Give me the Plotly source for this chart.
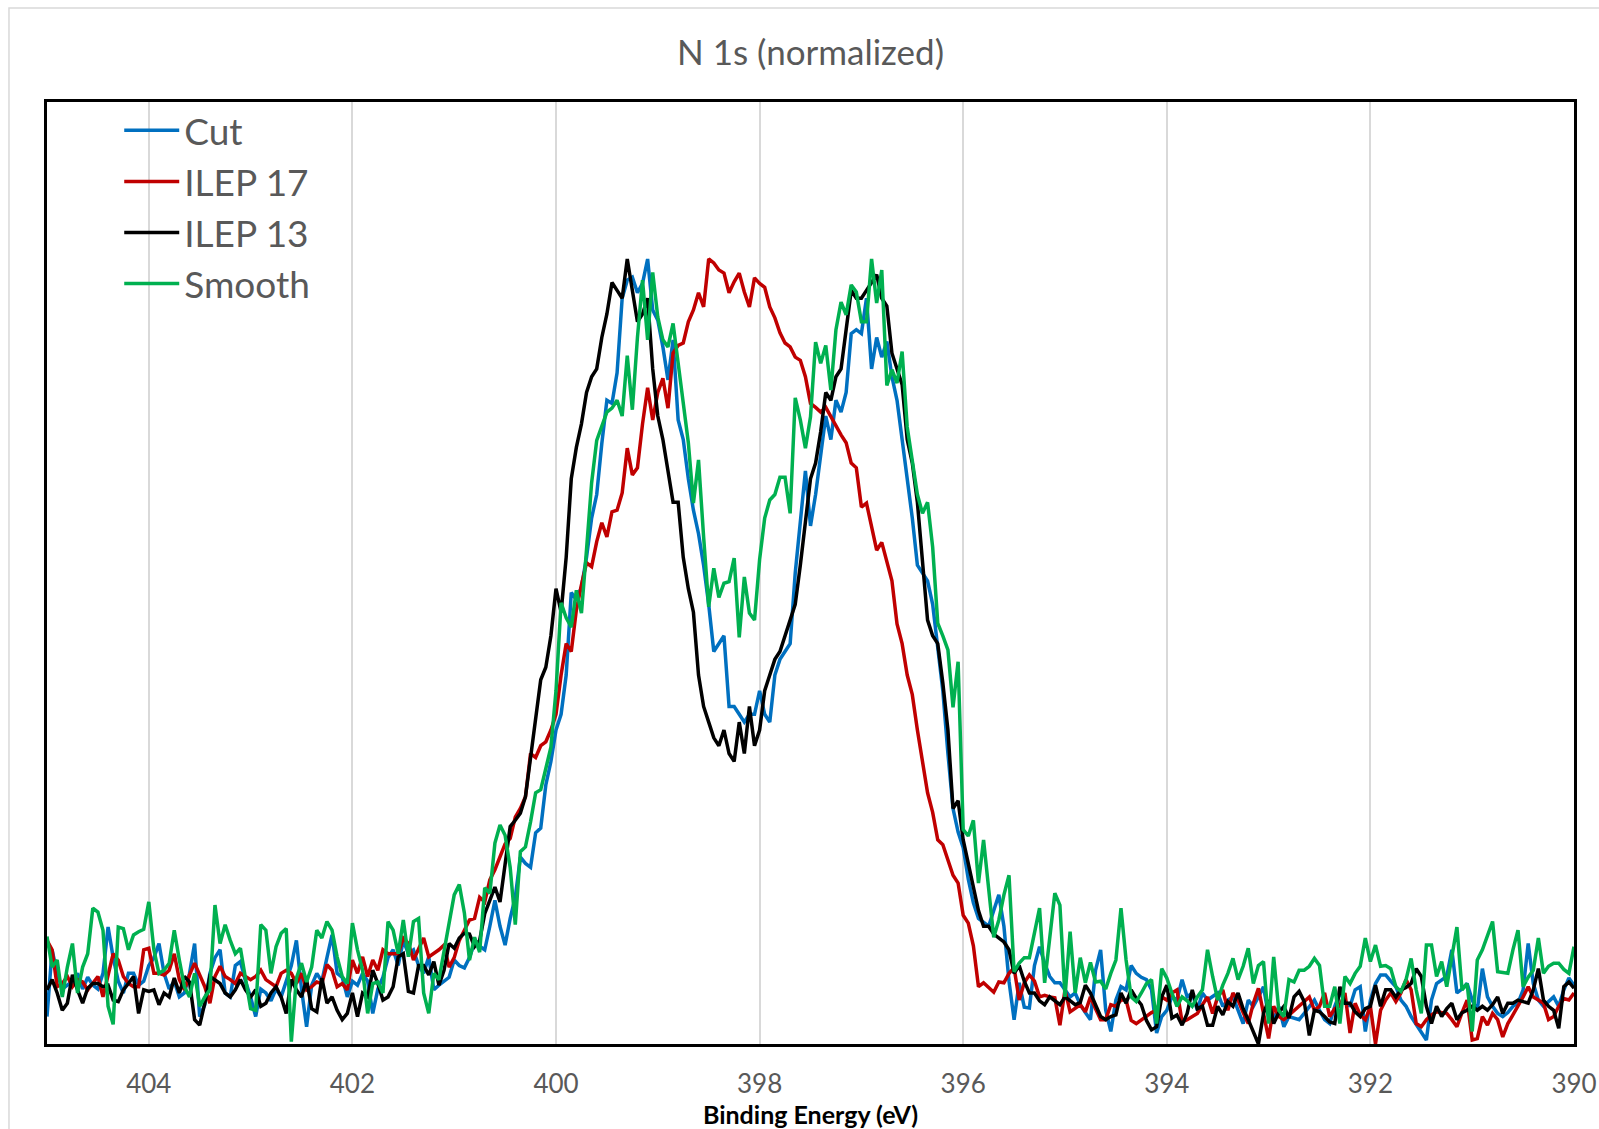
import plotly.graph_objects as go

# Binding energy grid: 405 eV down to 390 eV, 0.05 eV steps (301 points)
E_START = 405.0
E_STEP = 0.05

tick_vals = [404, 402, 400, 398, 396, 394, 392, 390]
tick_text = ["404", "402", "400", "398", "396", "394", "392", "390"]

series_names = ["Cut", "ILEP 17", "ILEP 13", "Smooth"]

cut = [
    0.035, 0.12, 0.09, 0.07, 0.075, 0.08, 0.09, 0.07, 0.085, 0.075,
    0.07, 0.09, 0.149, 0.11, 0.08, 0.065, 0.09, 0.09, 0.075, 0.08,
    0.10, 0.11, 0.128, 0.09, 0.07, 0.08, 0.06, 0.065, 0.09, 0.128,
    0.035, 0.05, 0.09, 0.11, 0.12, 0.065, 0.06, 0.10, 0.105, 0.08,
    0.06, 0.035, 0.07, 0.065, 0.055, 0.07, 0.06, 0.08, 0.10, 0.132,
    0.07, 0.022, 0.075, 0.09, 0.08, 0.11, 0.139, 0.09, 0.085, 0.06,
    0.08, 0.075, 0.09, 0.08, 0.039, 0.07, 0.085, 0.11, 0.12, 0.10,
    0.132, 0.115, 0.12, 0.10, 0.09, 0.111, 0.069, 0.075, 0.08, 0.085,
    0.107, 0.10, 0.097, 0.11, 0.129, 0.125, 0.12, 0.15, 0.183, 0.15,
    0.126, 0.16, 0.187, 0.238, 0.23, 0.225, 0.269, 0.275, 0.33, 0.36,
    0.40, 0.42, 0.47, 0.575, 0.566, 0.582, 0.62, 0.67, 0.70, 0.765,
    0.82, 0.816, 0.855, 0.95, 0.973, 0.977, 0.957, 0.969, 1.0, 0.935,
    0.922, 0.888, 0.846, 0.897, 0.795, 0.77, 0.72, 0.68, 0.65, 0.61,
    0.56, 0.50, 0.51, 0.52, 0.43, 0.43, 0.42, 0.41, 0.42, 0.42,
    0.45, 0.42, 0.41, 0.47, 0.49, 0.50, 0.51, 0.60, 0.67, 0.73,
    0.66, 0.70, 0.75, 0.80, 0.77, 0.82, 0.805, 0.83, 0.905, 0.91,
    0.905, 0.95, 0.86, 0.90, 0.875, 0.895, 0.85, 0.82, 0.77, 0.72,
    0.67, 0.61, 0.60, 0.59, 0.56, 0.50, 0.45, 0.37, 0.30, 0.27,
    0.25, 0.21, 0.18, 0.16, 0.155, 0.15, 0.17, 0.19, 0.15, 0.08,
    0.031, 0.078, 0.047, 0.046, 0.10, 0.124, 0.103, 0.086, 0.078, 0.078,
    0.069, 0.06, 0.065, 0.05, 0.04, 0.031, 0.094, 0.12, 0.043, 0.016,
    0.056, 0.073, 0.069, 0.10, 0.09, 0.085, 0.082, 0.069, 0.014, 0.035,
    0.043, 0.06, 0.056, 0.082, 0.06, 0.065, 0.043, 0.065, 0.056, 0.06,
    0.065, 0.048, 0.056, 0.06, 0.043, 0.026, 0.056, 0.048, 0.06, 0.073,
    0.035, 0.031, 0.048, 0.022, 0.035, 0.033, 0.031, 0.039, 0.048, 0.056,
    0.043, 0.031, 0.026, 0.048, 0.065, 0.055, 0.048, 0.069, 0.073, 0.016,
    0.056, 0.077, 0.088, 0.088, 0.08, 0.073, 0.056, 0.048, 0.035, 0.024,
    0.015, 0.005, 0.056, 0.077, 0.082, 0.086, 0.12, 0.065, 0.07, 0.077,
    0.056, 0.043, 0.096, 0.06, 0.048, 0.039, 0.035, 0.04, 0.048, 0.052,
    0.069, 0.128, 0.077, 0.056, 0.048, 0.054, 0.06, 0.048, 0.069, 0.084,
    0.075,
]

ilep17 = [
    0.132, 0.12, 0.073, 0.077, 0.086, 0.073, 0.082, 0.079, 0.069, 0.077,
    0.086, 0.06, 0.09, 0.115, 0.107, 0.086, 0.077, 0.073, 0.073, 0.12,
    0.122, 0.09, 0.09, 0.088, 0.094, 0.115, 0.082, 0.069, 0.088, 0.103,
    0.088, 0.073, 0.052, 0.086, 0.099, 0.086, 0.082, 0.077, 0.09, 0.086,
    0.082, 0.086, 0.094, 0.082, 0.077, 0.073, 0.09, 0.094, 0.09, 0.077,
    0.09, 0.069, 0.073, 0.079, 0.077, 0.101, 0.094, 0.073, 0.077, 0.069,
    0.107, 0.09, 0.111, 0.086, 0.107, 0.094, 0.12, 0.115, 0.115, 0.115,
    0.135, 0.128, 0.107, 0.12, 0.135, 0.111, 0.115, 0.12, 0.126, 0.098,
    0.11, 0.132, 0.145, 0.158, 0.16, 0.187, 0.181, 0.209, 0.222, 0.24,
    0.255, 0.262, 0.289, 0.30, 0.315, 0.37, 0.365, 0.38, 0.385, 0.40,
    0.42, 0.47, 0.51, 0.50, 0.553, 0.585, 0.613, 0.608, 0.64, 0.664,
    0.646, 0.678, 0.68, 0.702, 0.759, 0.725, 0.734, 0.79, 0.836, 0.795,
    0.83, 0.848, 0.81, 0.88, 0.89, 0.893, 0.92, 0.935, 0.957, 0.939,
    1.0, 0.995, 0.986, 0.982, 0.957, 0.971, 0.982, 0.958, 0.939, 0.976,
    0.969, 0.964, 0.939, 0.925, 0.906, 0.893, 0.888, 0.875, 0.871, 0.85,
    0.816, 0.811, 0.805, 0.811, 0.799, 0.786, 0.776, 0.766, 0.74, 0.734,
    0.684, 0.689, 0.659, 0.629, 0.639, 0.614, 0.59, 0.535, 0.51, 0.47,
    0.445, 0.40, 0.36, 0.32, 0.295, 0.26, 0.254, 0.234, 0.215, 0.205,
    0.164, 0.154, 0.125, 0.073, 0.078, 0.072, 0.066, 0.079, 0.078, 0.09,
    0.097, 0.056, 0.078, 0.088, 0.08, 0.06, 0.062, 0.06, 0.059, 0.024,
    0.069, 0.041, 0.045, 0.05, 0.041, 0.06, 0.045, 0.031, 0.031, 0.05,
    0.048, 0.056, 0.056, 0.03, 0.026, 0.031, 0.035, 0.04, 0.043, 0.06,
    0.056, 0.065, 0.069, 0.028, 0.031, 0.035, 0.039, 0.05, 0.06, 0.039,
    0.06, 0.069, 0.043, 0.065, 0.056, 0.04, 0.026, 0.052, 0.071, 0.039,
    0.007, 0.048, 0.035, 0.031, 0.037, 0.043, 0.048, 0.055, 0.06, 0.043,
    0.048, 0.065, 0.035, 0.045, 0.048, 0.065, 0.014, 0.052, 0.037, 0.031,
    0.048, 0.0, 0.043, 0.056, 0.065, 0.054, 0.065, 0.082, 0.069, 0.026,
    0.022, 0.031, 0.037, 0.041, 0.04, 0.039, 0.031, 0.022, 0.04, 0.056,
    0.005, 0.007, 0.035, 0.024, 0.039, 0.031, 0.009, 0.026, 0.037, 0.048,
    0.06, 0.073, 0.06, 0.056, 0.052, 0.031, 0.035, 0.048, 0.058, 0.056,
    0.065,
]

ilep13 = [
    0.069, 0.082, 0.065, 0.043, 0.052, 0.088, 0.069, 0.052, 0.071, 0.077,
    0.077, 0.073, 0.075, 0.056, 0.054, 0.069, 0.077, 0.086, 0.039, 0.069,
    0.067, 0.069, 0.05, 0.065, 0.06, 0.084, 0.065, 0.086, 0.079, 0.031,
    0.024, 0.052, 0.086, 0.082, 0.077, 0.065, 0.06, 0.069, 0.082, 0.069,
    0.06, 0.069, 0.048, 0.052, 0.065, 0.073, 0.06, 0.039, 0.082, 0.069,
    0.06, 0.082, 0.045, 0.041, 0.084, 0.052, 0.06, 0.043, 0.031, 0.039,
    0.065, 0.035, 0.065, 0.06, 0.094, 0.077, 0.056, 0.06, 0.073, 0.111,
    0.115, 0.067, 0.065, 0.10, 0.10, 0.088, 0.105, 0.075, 0.094, 0.128,
    0.122, 0.135, 0.141, 0.14, 0.124, 0.132, 0.166, 0.183, 0.20, 0.181,
    0.226, 0.277, 0.285, 0.294, 0.315, 0.366, 0.421, 0.464, 0.48, 0.52,
    0.58, 0.55, 0.62, 0.72, 0.76, 0.79, 0.83, 0.85, 0.86, 0.90,
    0.93, 0.97, 0.96, 0.95, 1.0, 0.96, 0.92, 0.93, 0.95, 0.86,
    0.80, 0.77, 0.73, 0.69, 0.69, 0.62, 0.58, 0.55, 0.47, 0.43,
    0.41, 0.39, 0.38, 0.40, 0.37, 0.36, 0.41, 0.37, 0.43, 0.38,
    0.40, 0.45, 0.47, 0.49, 0.50, 0.52, 0.54, 0.56, 0.61, 0.67,
    0.72, 0.74, 0.78, 0.83, 0.82, 0.85, 0.86, 0.91, 0.96, 0.95,
    0.95, 0.96, 0.97, 0.98, 0.95, 0.94, 0.88, 0.86, 0.84, 0.77,
    0.74, 0.69, 0.62, 0.54, 0.52, 0.51, 0.46, 0.40, 0.30, 0.31,
    0.26, 0.23, 0.20, 0.17, 0.15, 0.15, 0.14, 0.135, 0.13, 0.12,
    0.09, 0.10, 0.08, 0.065, 0.065, 0.055, 0.05, 0.06, 0.055, 0.05,
    0.06, 0.055, 0.05, 0.053, 0.075, 0.065, 0.05, 0.035, 0.031, 0.035,
    0.037, 0.065, 0.052, 0.069, 0.058, 0.05, 0.03, 0.018, 0.022, 0.06,
    0.075, 0.033, 0.037, 0.024, 0.039, 0.069, 0.045, 0.048, 0.024, 0.024,
    0.048, 0.037, 0.054, 0.048, 0.065, 0.045, 0.031, 0.015, 0.0, 0.039,
    0.056, 0.026, 0.04, 0.048, 0.033, 0.06, 0.067, 0.054, 0.011, 0.043,
    0.041, 0.035, 0.028, 0.026, 0.073, 0.052, 0.052, 0.041, 0.035, 0.045,
    0.048, 0.075, 0.048, 0.069, 0.069, 0.06, 0.069, 0.072, 0.077, 0.096,
    0.086, 0.048, 0.026, 0.048, 0.035, 0.045, 0.052, 0.031, 0.04, 0.043,
    0.048, 0.043, 0.048, 0.043, 0.05, 0.06, 0.039, 0.052, 0.052, 0.056,
    0.054, 0.052, 0.069, 0.096, 0.056, 0.048, 0.043, 0.02, 0.073, 0.079,
    0.071,
]

smooth = [
    0.137, 0.098, 0.107, 0.06, 0.098, 0.128, 0.065, 0.098, 0.115, 0.173,
    0.168, 0.145, 0.048, 0.025, 0.149, 0.147, 0.12, 0.139, 0.143, 0.146,
    0.181, 0.12, 0.09, 0.094, 0.103, 0.145, 0.107, 0.073, 0.06, 0.09,
    0.048, 0.06, 0.069, 0.177, 0.128, 0.152, 0.132, 0.115, 0.122, 0.086,
    0.045, 0.043, 0.152, 0.145, 0.09, 0.124, 0.141, 0.147, 0.003, 0.084,
    0.103, 0.079, 0.098, 0.145, 0.135, 0.156, 0.145, 0.111, 0.086, 0.077,
    0.154, 0.12, 0.094, 0.039, 0.077, 0.079, 0.065, 0.156, 0.145, 0.115,
    0.158, 0.111, 0.156, 0.16, 0.065, 0.039, 0.09, 0.082, 0.12, 0.158,
    0.19, 0.203, 0.167, 0.107, 0.136, 0.117, 0.199, 0.192, 0.256, 0.279,
    0.266, 0.225, 0.152, 0.245, 0.251, 0.283, 0.32, 0.324, 0.352, 0.378,
    0.45, 0.562, 0.543, 0.531, 0.578, 0.549, 0.63, 0.715, 0.769, 0.786,
    0.805, 0.81, 0.82, 0.80, 0.877, 0.808, 0.90, 0.973, 0.897, 0.983,
    0.926, 0.897, 0.888, 0.918, 0.867, 0.816, 0.766, 0.689, 0.744, 0.646,
    0.557, 0.606, 0.569, 0.587, 0.589, 0.619, 0.518, 0.595, 0.549, 0.54,
    0.617, 0.67, 0.693, 0.70, 0.722, 0.722, 0.676, 0.823, 0.795, 0.759,
    0.799, 0.894, 0.867, 0.89, 0.833, 0.91, 0.945, 0.929, 0.967, 0.958,
    0.92, 0.92, 1.0, 0.944, 0.986, 0.839, 0.859, 0.842, 0.882, 0.786,
    0.744, 0.70, 0.676, 0.69, 0.633, 0.536, 0.52, 0.502, 0.429, 0.487,
    0.273, 0.265, 0.285, 0.205, 0.26, 0.20, 0.136, 0.158, 0.19, 0.215,
    0.092, 0.103, 0.11, 0.11, 0.14, 0.173, 0.078, 0.14, 0.192, 0.177,
    0.06, 0.143, 0.065, 0.11, 0.078, 0.104, 0.079, 0.08, 0.07, 0.09,
    0.107, 0.173, 0.107, 0.06, 0.054, 0.065, 0.077, 0.082, 0.026, 0.096,
    0.084, 0.065, 0.048, 0.06, 0.055, 0.048, 0.06, 0.069, 0.12, 0.086,
    0.056, 0.075, 0.09, 0.109, 0.082, 0.099, 0.122, 0.077, 0.1, 0.105,
    0.026, 0.111, 0.043, 0.035, 0.082, 0.079, 0.094, 0.094, 0.099, 0.109,
    0.1, 0.048, 0.048, 0.073, 0.026, 0.086, 0.077, 0.09, 0.099, 0.135,
    0.105, 0.126, 0.099, 0.1, 0.096, 0.073, 0.067, 0.082, 0.109, 0.069,
    0.039, 0.126, 0.126, 0.086, 0.105, 0.073, 0.11, 0.149, 0.069, 0.077,
    0.016, 0.107, 0.12, 0.137, 0.156, 0.092, 0.091, 0.09, 0.12, 0.145,
    0.073, 0.085, 0.094, 0.135, 0.09, 0.099, 0.103, 0.103, 0.095, 0.09,
    0.124,
]

colors = {"Cut": "#0070C0", "ILEP 17": "#C00000", "ILEP 13": "#000000", "Smooth": "#00B050"}
data = {"Cut": cut, "ILEP 17": ilep17, "ILEP 13": ilep13, "Smooth": smooth}


def energies(n):
    return [round(E_START - E_STEP * i, 2) for i in range(n)]


fig = go.Figure()
for name in series_names:
    vals = data[name]
    fig.add_trace(go.Scatter(
        x=energies(len(vals)), y=vals, mode="lines", name=name,
        line=dict(color=colors[name], width=3.5),
    ))

FONT = "Lato"
GREY = "#595959"

fig.update_layout(
    width=1599, height=1129,
    margin=dict(l=47, r=25, t=102, b=85, autoexpand=False),
    paper_bgcolor="white", plot_bgcolor="white",
    title=dict(text="N 1s (normalized)", x=0.5, xref="paper", xanchor="center",
               y=1 - 53 / 1129, yref="container", yanchor="middle",
               font=dict(family=FONT, size=35, color=GREY)),
    font=dict(family=FONT, color=GREY),
    legend=dict(x=0.0473, y=1.0024, xanchor="left", yanchor="top",
                bgcolor="rgba(0,0,0,0)", borderwidth=0,
                font=dict(family=FONT, size=37, color=GREY),
                itemwidth=55, tracegroupgap=0),
    showlegend=True,
    shapes=[
        # white area behind the legend hides the gridlines there
        dict(type="rect", xref="paper", yref="paper", x0=0, x1=0.2017, y0=0.775, y1=1,
             fillcolor="white", line=dict(width=0), layer="between"),
        # outer chart-area border
        dict(type="rect", xref="paper", yref="paper", x0=-0.0249, x1=1.03, y0=-0.12, y1=1.0998,
             fillcolor="rgba(0,0,0,0)", line=dict(color="#d9d9d9", width=1.5), layer="above"),
    ],
)

fig.update_xaxes(
    range=[405, 390], tickvals=tick_vals, ticktext=tick_text,
    automargin=False,
    showgrid=True, gridcolor="#d9d9d9", gridwidth=1.5,
    showline=True, linecolor="#000000", linewidth=2.5, mirror=True,
    ticks="outside", ticklen=15, tickcolor="rgba(0,0,0,0)",
    tickfont=dict(family=FONT, size=26, color=GREY),
    zeroline=False,
    title=dict(text="<b>Binding Energy (eV)</b>", standoff=8,
               font=dict(family=FONT, size=25, color="#000000")),
)
fig.update_yaxes(
    range=[0, 1.2], showgrid=False, showticklabels=False, zeroline=False,
    automargin=False,
    showline=True, linecolor="#000000", linewidth=2.5, mirror=True, ticks="",
)

fig.write_html("out.html")
